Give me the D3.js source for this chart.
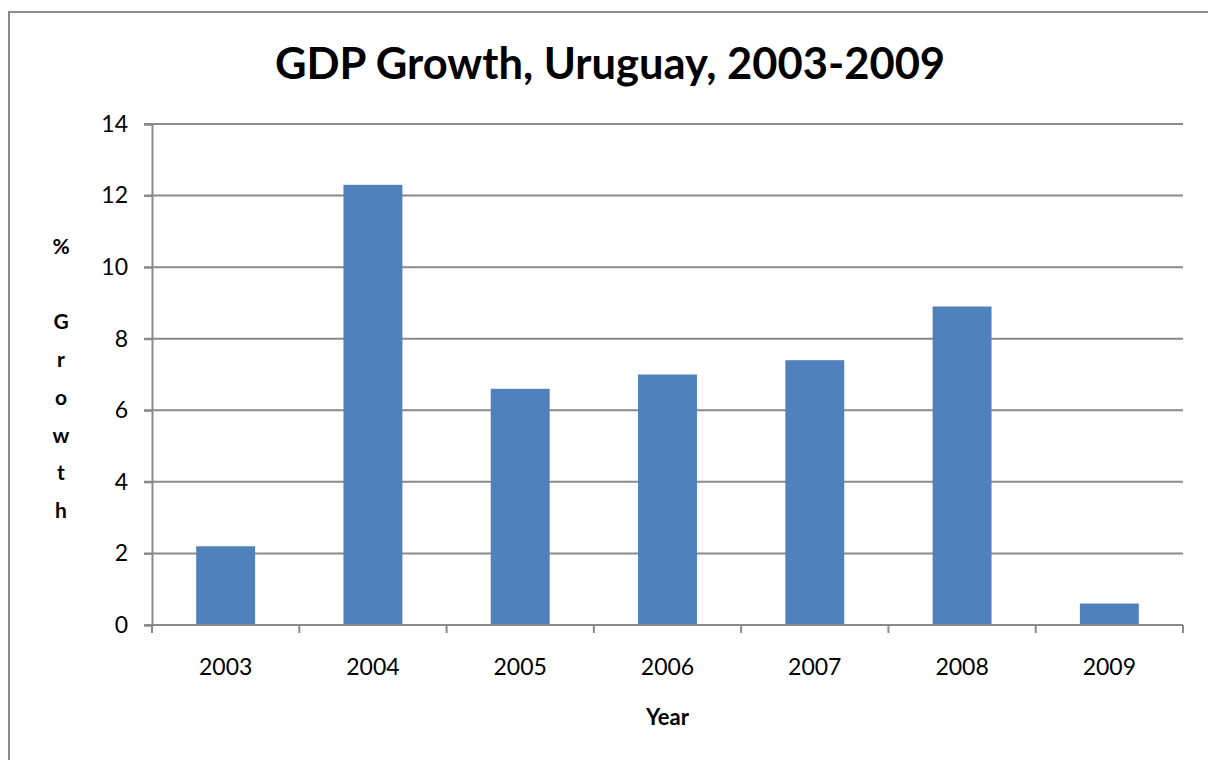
<!DOCTYPE html>
<html>
<head>
<meta charset="utf-8">
<script src="https://cdn.jsdelivr.net/npm/d3@7"></script>
<style>
  body { margin: 0; background: #fff; }
  text { font-family: Lato, "Open Sans", sans-serif; }
</style>
</head>
<body>
<svg id="chart"></svg>
<script>
// data
const years = ["2003", "2004", "2005", "2006", "2007", "2008", "2009"];
const growth = [2.2, 12.3, 6.6, 7.0, 7.4, 8.9, 0.6];
const yTicks = [0, 2, 4, 6, 8, 10, 12, 14];
const yTitleChars = ["%", "", "G", "r", "o", "w", "t", "h"];

const width = 1208, height = 760;
const plotLeft = 152, plotRight = 1183, plotTop = 124, plotBottom = 625;

const svg = d3.select("#chart")
  .attr("width", width)
  .attr("height", height);

// outer chart frame (runs off the right and bottom edge)
svg.append("rect")
  .attr("x", 9).attr("y", 12)
  .attr("width", 1220).attr("height", 780)
  .attr("fill", "#fff")
  .attr("stroke", "#8a8a8a")
  .attr("stroke-width", 2);

var x = d3.scaleBand()
  .domain(years)
  .range([plotLeft, plotRight])
  .paddingInner(0.6)
  .paddingOuter(0.3);

var y = d3.scaleLinear()
  .domain([0, 14])
  .range([plotBottom, plotTop]);

// gridlines
svg.append("g")
  .selectAll("line")
  .data(yTicks.filter(d => d > 0))
  .join("line")
  .attr("x1", plotLeft - 8)
  .attr("x2", plotRight)
  .attr("y1", d => y(d))
  .attr("y2", d => y(d))
  .attr("stroke", "#8a8a8a")
  .attr("stroke-width", 2);

// bars
svg.append("g")
  .selectAll("rect")
  .data(growth)
  .join("rect")
  .attr("x", (d, i) => x(years[i]))
  .attr("width", x.bandwidth())
  .attr("y", d => y(d))
  .attr("height", d => y(0) - y(d))
  .attr("fill", "#4f81bd");

// y axis
var yAxis = svg.append("g")
  .attr("transform", `translate(${plotLeft},0)`)
  .call(d3.axisLeft(y).tickValues(yTicks).tickSize(8).tickPadding(16).tickFormat(d3.format("d")));
yAxis.select(".domain").attr("stroke", "#8a8a8a").attr("stroke-width", 2);
yAxis.selectAll(".tick line").attr("stroke", "#8a8a8a").attr("stroke-width", 2);
yAxis.selectAll(".tick text")
  .attr("font-size", 23)
  .attr("fill", "#000")
  .style("font-family", "Lato, sans-serif");

// x axis: baseline plus ticks on band edges
var xEdges = d3.scaleLinear().domain([0, years.length]).range([plotLeft, plotRight]);
svg.append("line")
  .attr("x1", plotLeft - 8).attr("x2", plotRight)
  .attr("y1", plotBottom).attr("y2", plotBottom)
  .attr("stroke", "#8a8a8a").attr("stroke-width", 2);
svg.append("g")
  .selectAll("line")
  .data(d3.range(years.length + 1))
  .join("line")
  .attr("x1", d => xEdges(d)).attr("x2", d => xEdges(d))
  .attr("y1", plotBottom).attr("y2", plotBottom + 8)
  .attr("stroke", "#8a8a8a").attr("stroke-width", 2);

svg.append("g")
  .selectAll("text")
  .data(years)
  .join("text")
  .attr("x", d => x(d) + x.bandwidth() / 2)
  .attr("y", 675)
  .attr("text-anchor", "middle")
  .attr("font-size", 23)
  .attr("fill", "#000")
  .text(d => d);

// title
svg.append("text")
  .attr("x", 610)
  .attr("y", 79)
  .attr("text-anchor", "middle")
  .attr("font-size", 43.5)
  .attr("font-weight", "bold")
  .text("GDP Growth, Uruguay, 2003-2009");

// x axis title
svg.append("text")
  .attr("x", (plotLeft + plotRight) / 2)
  .attr("y", 725)
  .attr("text-anchor", "middle")
  .attr("font-size", 22)
  .attr("font-weight", "bold")
  .text("Year");

// y axis title, one letter per line
svg.append("g")
  .selectAll("text")
  .data(yTitleChars)
  .join("text")
  .attr("x", 61)
  .attr("y", (d, i) => 254 + i * 37.7)
  .attr("text-anchor", "middle")
  .attr("font-size", 21)
  .attr("font-weight", "bold")
  .text(d => d);
</script>
</body>
</html>
